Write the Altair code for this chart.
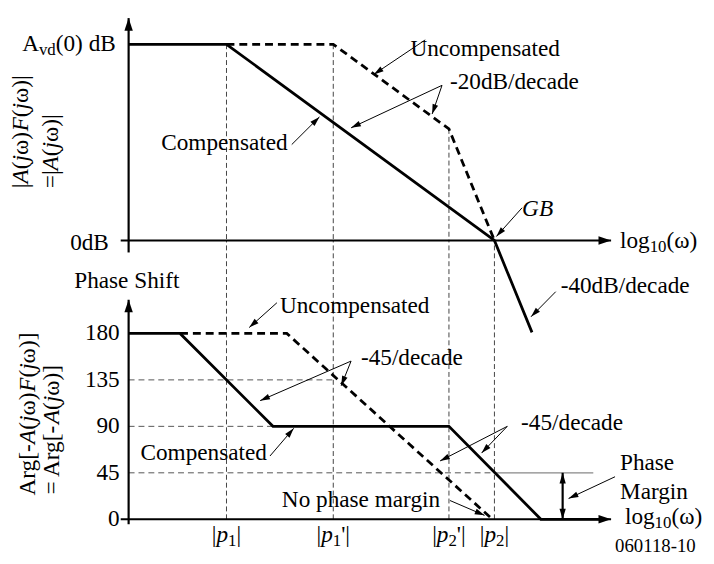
import math
from collections import defaultdict
import altair as alt
import pandas as pd

# ---------------- values ----------------
# x: log10(omega) in decades (0 at the vertical axis), magnitude in dB, phase in degrees
P1, P1P, P2P, P2 = 0.99, 2.07, 3.24, 3.70      # |p1|, |p1'|, |p2'|, |p2| (= GB)
AVD0 = 54.0                                    # Avd(0) dB
UNC_CORNER_DB = 30.7

mag_comp_x = [0.0, P1, P2, 4.08]
mag_comp_db = [AVD0, AVD0, 0.0, -25.3]
mag_unc_x = [P1, P1P, P2P, P2]
mag_unc_db = [AVD0, AVD0, UNC_CORNER_DB, 0.0]

ph_comp_x = [0.0, 0.52, 1.46, P2P, 4.17, 4.76]
ph_comp_deg = [180, 180, 90, 90, 0, 0]
ph_unc_x = [0.52, 1.60, 3.68]
ph_unc_deg = [180, 180, 0]

phase_ticks = [180, 135, 90, 45, 0]
guide_deg = [135, 90, 45]
guide_end_x = [P1P, 1.46, P2]
margin_deg = 45
margin_line_end_x = 4.70
margin_arrow_x = 4.39

pole_x = [P1, P1P, P2P, P2]
pole_top_db = [AVD0, AVD0, UNC_CORNER_DB, 0.0]
pole_sub = ["1", "1", "2", "2"]
pole_prime = ["", "'", "'", ""]
PHASE_AT_0DB = 270

mag_axis_x = [-0.08, 4.88]
mag_axis_y = [-3.3, 61.2]
ph_axis_x = [-0.08, 4.88]
ph_axis_y = [-4.8, 212.6]

mag_arrows = [  # x1, y1 -> x2, y2 (dB)
    (3.00, 55.2, 2.48, 45.7),
    (3.17, 42.7, 2.25, 31.0),
    (3.17, 42.7, 3.07, 34.8),
    (1.65, 26.4, 1.93, 34.0),
    (3.98, 9.0, 3.72, 1.1),
    (4.32, -14.1, 4.07, -21.0),
]
ph_arrows = [  # x1, y1 -> x2, y2 (deg)
    (1.50, 209.7, 1.22, 185.7),
    (2.25, 153.2, 1.33, 114.9),
    (2.25, 153.2, 2.15, 129.3),
    (1.43, 61.3, 1.67, 88.1),
    (3.83, 90.0, 3.15, 56.5),
    (3.83, 90.0, 3.57, 64.1),
    (3.25, 18.2, 3.60, 3.8),
    (4.92, 41.2, 4.45, 20.1),
]

mag_notes = [("Uncompensated", 2.85, 50.9), ("-20dB/decade", 3.25, 41.6),
             ("Compensated", 0.33, 24.8), ("-40dB/decade", 4.37, -14.4)]
ph_notes = [("Phase Shift", -0.55, 224.0), ("Uncompensated", 1.53, 200.1),
            ("-45/decade", 2.35, 149.4), ("Compensated", 0.12, 57.4),
            ("-45/decade", 3.97, 86.2), ("No phase margin", 1.55, 11.5),
            ("Phase", 4.97, 47.9), ("Margin", 4.97, 20.1)]

# ---------------- scales ----------------
W, H = 698, 548
X_DOM = [-1.22, 5.76]
MAG_DOM = [-85.99, 63.13]
PH_DOM = [-32.55, 492.13]
PX_X = W / (X_DOM[1] - X_DOM[0])
PX_MAG = H / (MAG_DOM[1] - MAG_DOM[0])
PX_PH = H / (PH_DOM[1] - PH_DOM[0])

FONT = "Liberation Serif"
FS = 23.5
SUB = 17
SUB_DROP = 4


def kpx(panel):
    return PX_MAG if panel == "mag" else PX_PH


def xenc():
    return alt.X("x:Q", scale=alt.Scale(domain=X_DOM, nice=False, zero=False), axis=None)


def yenc(panel):
    dom = MAG_DOM if panel == "mag" else PH_DOM
    return alt.Y("y:Q", scale=alt.Scale(domain=dom, nice=False, zero=False), axis=None)


def polyline(xs, ys, panel, **mk):
    df = pd.DataFrame({"x": xs, "y": ys, "o": list(range(len(xs)))})
    return alt.Chart(df).mark_line(**mk).encode(xenc(), yenc(panel), order=alt.Order("o:Q"))


def rules(rows, panel, **mk):
    df = pd.DataFrame(rows, columns=["x", "y", "x2", "y2"])
    return alt.Chart(df).mark_rule(**mk).encode(xenc(), yenc(panel), x2=alt.X2("x2:Q"), y2=alt.Y2("y2:Q"))


def ang(x1, y1, x2, y2, panel):
    dx = (x2 - x1) * PX_X
    up = (y2 - y1) * kpx(panel)
    return math.degrees(math.atan2(dx, up)) % 360


def heads(rows, panel, shape, size):
    df = pd.DataFrame(rows, columns=["x", "y", "a"])
    return alt.Chart(df).mark_point(shape=shape, filled=True, size=size, opacity=1,
                                    color="black", strokeWidth=0).encode(
        xenc(), yenc(panel), angle=alt.Angle("a:Q", scale=None))


W_REG = {" ": 0.25, "(": 0.333, ")": 0.333, "A": 0.722, "B": 0.667, "d": 0.5, "v": 0.5,
         "l": 0.278, "o": 0.5, "g": 0.5, "|": 0.2, "ω": 0.69, "=": 0.564, "r": 0.333,
         "[": 0.333, "]": 0.333, "-": 0.333, "'": 0.18}
W_IT = {"A": 0.611, "F": 0.611, "j": 0.278, "p": 0.5, "G": 0.722, "B": 0.611}


def tw(s, size, italic):
    tbl = W_IT if italic else W_REG
    return sum(tbl.get(c, W_REG.get(c, 0.5)) for c in s) * size


pieces = []


def plain(panel, x, y, t, size=FS, italic=False, align="left", baseline="alphabetic"):
    pieces.append(dict(panel=panel, x=x, y=y, t=t, size=size, italic=italic,
                       align=align, baseline=baseline, angle=0))


def compose(panel, x, y, parts, align="left", rotate=False, baseline="alphabetic"):
    k = kpx(panel)
    spec = []
    for t, kind in parts:
        size = SUB if kind == "s" else FS
        it = kind == "i"
        spec.append((t, size, it, kind == "s", tw(t, size, it)))
    total = sum(s[4] for s in spec)
    off = {"left": 0.0, "right": -total, "center": -total / 2}[align]
    for t, size, it, sub, w in spec:
        if rotate:
            pieces.append(dict(panel=panel, x=x, y=y + off / k, t=t, size=size, italic=it,
                               align="left", baseline=baseline, angle=270))
        else:
            pieces.append(dict(panel=panel, x=x + off / PX_X,
                               y=y - (SUB_DROP / k if sub else 0.0), t=t, size=size,
                               italic=it, align="left", baseline=baseline, angle=0))
        off += w


# ---------------- layers ----------------
layers = []
GRID = dict(color="#444", strokeWidth=1, strokeDash=[5, 3])

# pole verticals
layers.append(rules([(px, top, px, 0.0) for px, top in zip(pole_x, pole_top_db) if top > 0],
                    "mag", **GRID))
layers.append(rules([(px, 0.0, px, PHASE_AT_0DB) for px in pole_x], "ph", **GRID))
# phase guide lines
layers.append(rules([(0.0, d, e, d) for d, e in zip(guide_deg, guide_end_x)], "ph",
                    color="#555", strokeWidth=1, strokeDash=[6, 4]))
layers.append(rules([(P2, margin_deg, margin_line_end_x, margin_deg)], "ph",
                    color="#888", strokeWidth=1.2))

# curves
layers.append(polyline(mag_unc_x, mag_unc_db, "mag", color="black", strokeWidth=2.8, strokeDash=[8, 5]))
layers.append(polyline(ph_unc_x, ph_unc_deg, "ph", color="black", strokeWidth=2.8, strokeDash=[8, 5]))
layers.append(polyline(mag_comp_x, mag_comp_db, "mag", color="black", strokeWidth=2.8))
layers.append(polyline(ph_comp_x, ph_comp_deg, "ph", color="black", strokeWidth=2.8))

# axes
AX = dict(color="black", strokeWidth=2.2)
layers.append(rules([(0.0, mag_axis_y[0], 0.0, mag_axis_y[1]),
                     (mag_axis_x[0], 0.0, mag_axis_x[1], 0.0)], "mag", **AX))
layers.append(rules([(0.0, ph_axis_y[0], 0.0, ph_axis_y[1]),
                     (ph_axis_x[0], 0.0, ph_axis_x[1], 0.0)], "ph", **AX))
HEAD_AXIS = "M0,0L-1,3L1,3Z"
HEAD_NOTE = "M0,0L-1,3.4L1,3.4Z"
layers.append(heads([(0.0, mag_axis_y[1], 0.0), (mag_axis_x[1], 0.0, 90.0)], "mag", HEAD_AXIS, 72))
layers.append(heads([(0.0, ph_axis_y[1], 0.0), (ph_axis_x[1], 0.0, 90.0)], "ph", HEAD_AXIS, 72))

# phase margin double arrow
layers.append(rules([(margin_arrow_x, 0.0, margin_arrow_x, margin_deg)], "ph", color="black", strokeWidth=2.2))
layers.append(heads([(margin_arrow_x, margin_deg, 0.0), (margin_arrow_x, 0.0, 180.0)], "ph", HEAD_NOTE, 40))

# annotation arrows
layers.append(rules(mag_arrows, "mag", color="black", strokeWidth=1))
layers.append(rules(ph_arrows, "ph", color="black", strokeWidth=1))
layers.append(heads([(a[2], a[3], ang(*a, "mag")) for a in mag_arrows], "mag", HEAD_NOTE, 34))
layers.append(heads([(a[2], a[3], ang(*a, "ph")) for a in ph_arrows], "ph", HEAD_NOTE, 34))

# ---------------- text ----------------
for t, x, y in mag_notes:
    plain("mag", x, y, t)
for t, x, y in ph_notes:
    plain("ph", x, y, t)
plain("mag", 3.98, 6.8, "GB", italic=True)
plain("mag", -0.20, -2.6, "0dB", align="right")
compose("mag", -0.13, 52.2, [("A", "r"), ("vd", "s"), ("(0) dB", "r")], align="right")
compose("mag", 4.97, -2.2, [("log", "r"), ("10", "s"), ("(ω)", "r")])
compose("ph", 5.02, -4.8, [("log", "r"), ("10", "s"), ("(ω)", "r")])
for v in phase_ticks:
    plain("ph", -0.09, v, str(v), align="right", baseline="middle")
for px, s, pr in zip(pole_x, pole_sub, pole_prime):
    compose("ph", px, -22.0, [("|", "r"), ("p", "i"), (s, "s"), (pr + "|", "r")], align="center")
plain("ph", 4.92, -31.6, "060118-10", size=19)

compose("mag", -1.085, 14.4,
        [("|", "r"), ("A", "i"), ("(", "r"), ("j", "i"), ("ω)", "r"), ("F", "i"),
         ("(", "r"), ("j", "i"), ("ω)|", "r")], rotate=True, baseline="middle")
compose("mag", -0.78, 14.4,
        [("=|", "r"), ("A", "i"), ("(", "r"), ("j", "i"), ("ω)|", "r")],
        rotate=True, baseline="middle")
compose("ph", -1.02, 23.0,
        [("Arg[-", "r"), ("A", "i"), ("(", "r"), ("j", "i"), ("ω)", "r"), ("F", "i"),
         ("(", "r"), ("j", "i"), ("ω)]", "r")], rotate=True, baseline="middle")
compose("ph", -0.77, 23.9,
        [("= Arg[-", "r"), ("A", "i"), ("(", "r"), ("j", "i"), ("ω)]", "r")],
        rotate=True, baseline="middle")

groups = defaultdict(list)
for p in pieces:
    key = (p["panel"], p["size"], p["italic"], p["align"], p["baseline"], p["angle"])
    groups[key].append({"x": p["x"], "y": p["y"], "t": p["t"]})
for (panel, size, italic, align, baseline, angle), rows in groups.items():
    mk = dict(font=FONT, fontSize=size, align=align, baseline=baseline, color="black")
    if italic:
        mk["fontStyle"] = "italic"
    if angle:
        mk["angle"] = angle
    layers.append(alt.Chart(pd.DataFrame(rows)).mark_text(**mk).encode(
        xenc(), yenc(panel), text="t:N"))

chart = alt.layer(*layers).resolve_scale(y="independent").properties(
    width=W, height=H,
    autosize=alt.AutoSizeParams(type="none"),
    padding={"left": 0, "top": 0, "right": 8, "bottom": 0},
    background="white",
).configure_view(stroke=None)

chart.save("out.html", embed_options={"renderer": "svg", "actions": False})
